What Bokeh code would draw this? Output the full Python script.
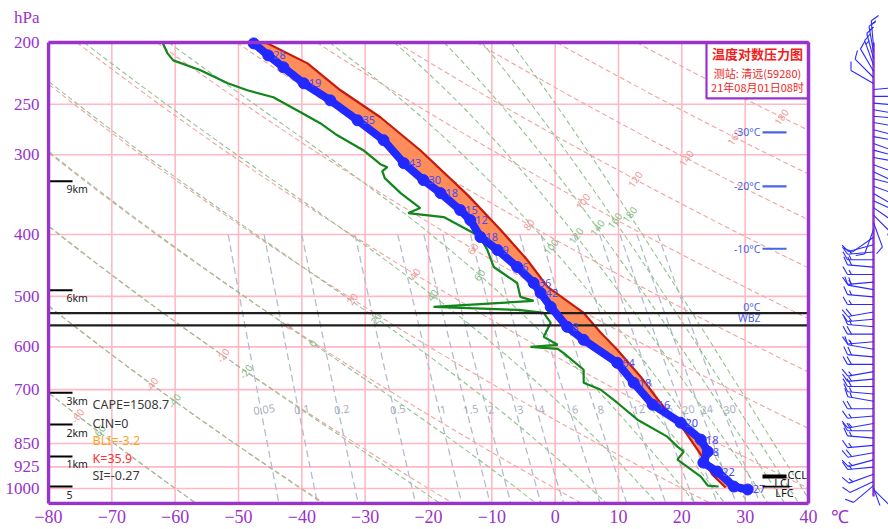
import numpy as np
from bokeh.plotting import figure
from bokeh.models import Range1d, FixedTicker
from bokeh.core.properties import value
from bokeh.embed import file_html
from bokeh.resources import INLINE

# ---------------- data ----------------
temp_p = [200.7, 209.6, 218.8, 231.8, 246.5, 264.9, 284.6, 309.2, 328.7, 344.5, 366.2, 379.7, 403.6, 423.0, 449.7,
          476.4, 493.8, 519.4, 558.1, 584.9, 635.4, 682.9, 739.2, 788.7, 838.5, 875.5, 910.8, 940.8, 993.0, 1003.6]
temp_t = [-47.6, -45.3, -42.9, -39.7, -35.5, -31.2, -27.1, -23.9, -20.8, -18.1, -15.0, -13.4, -11.8, -9.1, -6.0,
          -3.4, -2.3, -0.7, 1.9, 4.5, 9.8, 12.4, 15.4, 19.8, 23.0, 24.1, 23.4, 25.6, 28.2, 30.4]
temp_labels = ["", "28", "", "19", "", "35", "", "43", "30", "18", "15", "12", "18", "9", "6",
               "36", "42", "", "8", "", "64", "18", "16", "20", "18", "8", "", "22", "", "27"]

dew_p = [200.0, 208.1, 213.4, 221.2, 231.8, 237.7, 243.8, 257.3, 267.7, 279.6, 295.1, 310.3, 313.7, 318.2, 326.3,
         344.5, 363.6, 370.2, 375.6, 397.9, 405.1, 423.0, 449.7, 476.4, 500.9, 508.2, 519.4, 525.0, 530.7, 550.1,
         578.6, 595.5, 599.8, 604.1, 612.9, 651.6, 682.9, 700.3, 733.9, 780.2, 829.5, 859.9, 875.5, 901.1, 957.9,
         989.5, 993.0]
dew_t = [-62.0, -61.2, -60.3, -56.0, -51.7, -48.6, -44.5, -40.2, -37.1, -34.4, -30.3, -27.6, -26.5, -27.3, -26.9,
         -24.4, -21.3, -23.2, -17.6, -12.9, -11.8, -10.7, -9.7, -6.0, -5.5, -3.4, -19.2, -5.8, -1.8, -0.7,
         -1.8, 0.4, -3.9, 0.4, 1.3, 4.5, 4.5, 7.2, 9.8, 13.0, 17.7, 19.3, 20.3, 19.3, 23.0,
         24.1, 25.8]

parcel_p = [200.0, 215.7, 237.7, 262.0, 295.1, 347.0, 393.6, 438.5, 483.3, 530.7, 570.3, 606.3, 668.2, 733.9,
            808.8, 885.0, 951.0, 996.6]
parcel_t = [-45.7, -39.1, -33.9, -27.6, -21.3, -13.8, -8.6, -4.4, -1.2, 4.5, 7.2, 9.8, 13.5, 16.6,
            20.3, 23.0, 24.8, 26.9]

x_ticks = [-80, -70, -60, -50, -40, -30, -20, -10, 0, 10, 20, 30, 40]
y_ticks = [200, 250, 300, 400, 500, 600, 700, 850, 925, 1000]

dry_theta = [-60, -40, -20, 0, 20, 40, 60, 80, 100, 120, 140, 160, 180, 200]
moist_theta = [-60, -40, -20, 0, 20, 40, 60, 80, 100, 120, 140, 160, 180]
mix_ratio = [0.05, 0.1, 0.2, 0.5, 1, 1.5, 2, 3, 4, 6, 8, 12, 16, 20, 24, 30]
mix_labels = ["0.05", "0.1", "0.2", "0.5", "1", "1.5", "2", "3", "4", "6", "8", "12", "16", "20", "24", "30"]

height_p = [330, 489, 708, 794, 891, 993]
height_labels = ["9km", "6km", "3km", "2km", "1km", "5"]

iso_line_p = [276.6, 336.1, 421.1]
iso_label_p = [276.6, 336.1, 421.1, 519.5, 540.3]
iso_labels = ["-30°C", "-20°C", "-10°C", "0°C", "WBZ"]
zero_level_p = 531
wbz_level_p = 555

index_texts = ["CAPE=1508.7", "CIN=0", "BLI=-3.2", "K=35.9", "SI=-0.27"]
index_p = [739, 790, 841, 898, 955]
index_colors = ["#3a3a3a", "#3a3a3a", "#ffa21f", "#ff3030", "#3a3a3a"]

ccl_p, lcl_p, lfc_p = 958, 993, 993

title_lines = ["温度对数压力图", "测站: 清远(59280)", "21年08月01日08时"]

wind_p = [203, 207, 212, 217, 222, 227, 232,
          237, 243, 249, 255, 261, 267, 274, 281, 288, 295, 303, 311, 319, 327, 336, 345, 354, 363, 373,
          383, 393, 404,
          415, 426, 438, 450, 462, 475, 488, 501, 515, 529, 543, 558, 573, 589, 605, 622, 639, 656, 674, 692,
          711, 730, 750, 770, 791, 812, 834, 856, 879, 902, 926, 950, 975, 990, 998, 1003]
wind_dir = [355, 350, 345, 340, 330, 315, 300,
            85, 90, 95, 100, 95, 100, 105, 100, 110, 105, 100, 110, 115, 105, 110, 120, 115, 125, 135,
            160, 200, 235,
            255, 265, 270, 275, 270, 265, 280, 275, 270, 260, 265, 275, 270, 265, 280, 275, 270, 260, 265, 270,
            275, 280, 270, 265, 260, 270, 275, 265, 260, 255, 265, 250, 245, 230, 160, 135]
wind_spd = [6, 6, 5, 6, 5, 4, 4,
            8, 10, 10, 12, 10, 12, 10, 12, 10, 12, 10, 8, 10, 12, 10, 8, 8, 6, 6,
            4, 4, 4,
            4, 6, 6, 8, 6, 6, 8, 6, 6, 8, 6, 6, 8, 6, 6, 8, 8, 6, 6, 8,
            6, 6, 8, 6, 6, 8, 6, 6, 8, 6, 6, 6, 4, 4, 4, 4]

# ---------------- geometry helpers (page pixels <-> data) ----------------
PX = 760.0 / 120.0      # px per degC
PPL = 277.7             # px per ln(p)
X0, Y0 = 48.0, 42.0     # page position of (-80 C, 200 hPa)


def px_of(T):
    return X0 + (np.asarray(T, float) + 80.0) * PX


def py_of(p):
    return Y0 + PPL * np.log(np.asarray(p, float) / 200.0)


def T_of_px(x):
    return -80.0 + (x - X0) / PX


def p_of_py(y):
    return 200.0 * np.exp((y - Y0) / PPL)


W, H = 888, 529
LEFT, RIGHT, TOP, BOTTOM = 46, 888, 0, 506
x_start, x_end = T_of_px(LEFT), T_of_px(RIGHT)
p_top, p_bot = p_of_py(TOP), p_of_py(BOTTOM)
T_MIN, T_MAX = -80.0, 40.0
P_MIN, P_MAX = 200.0, p_of_py(504)

PURPLE = "#9933cc"
PINK = "#ffb9c4"

p = figure(width=W, height=H, x_range=Range1d(x_start, x_end), y_range=Range1d(p_bot, p_top),
           y_axis_type="log", output_backend="svg", toolbar_location=None,
           min_border_left=LEFT, min_border_right=W - RIGHT, min_border_top=TOP,
           min_border_bottom=H - BOTTOM)
p.outline_line_color = None
p.xgrid.visible = False
p.ygrid.visible = False
p.background_fill_color = "white"
p.border_fill_color = "white"

# axes
p.xaxis.ticker = FixedTicker(ticks=x_ticks + [45])
ov = {t: ("\u2212%d" % (-t) if t < 0 else str(t)) for t in x_ticks}
ov[45] = "℃"
p.xaxis.major_label_overrides = ov
p.yaxis.ticker = FixedTicker(ticks=[183] + y_ticks)
yov = {t: str(t) for t in y_ticks}
yov[183] = "hPa"
p.yaxis.major_label_overrides = yov
for ax in (p.xaxis[0], p.yaxis[0]):
    ax.axis_line_color = None
    ax.major_tick_line_color = None
    ax.minor_tick_line_color = None
    ax.major_tick_out = 0
    ax.major_tick_in = 0
    ax.minor_tick_out = 0
    ax.minor_tick_in = 0
    ax.major_label_text_color = PURPLE
    ax.major_label_text_font = "Liberation Serif"
p.xaxis.major_label_text_font_size = "18px"
p.xaxis.major_label_standoff = 1
p.yaxis.major_label_text_font_size = "17px"
p.yaxis.major_label_standoff = 7


def clip(T, pp):
    T = np.array(T, float)
    pp = np.array(pp, float)
    bad = (T < T_MIN) | (T > T_MAX) | (pp < P_MIN) | (pp > P_MAX) | np.isnan(T)
    T[bad] = np.nan
    pp[bad] = np.nan
    return T, pp


def label_point(T, pp, a, b):
    gx, gy = px_of(T), py_of(pp)
    (x1, y1), (x2, y2) = a, b
    f = (gy - y1) - (y2 - y1) / (x2 - x1) * (gx - x1)
    valid = ~np.isnan(f)
    s = np.sign(np.nan_to_num(f))
    idx = np.where(valid[:-1] & valid[1:] & (s[:-1] != s[1:]))[0]
    if len(idx) == 0:
        return None
    i = idx[0]
    return T[i], pp[i]


# ---------------- grid ----------------
gx = [t for t in x_ticks if T_MIN < t < T_MAX]
p.segment(x0=gx, y0=[P_MIN] * len(gx), x1=gx, y1=[P_MAX] * len(gx), line_color=PINK, line_width=1.6)
gy = [v for v in y_ticks if v > P_MIN]
p.segment(x0=[T_MIN] * len(gy), y0=gy, x1=[T_MAX] * len(gy), y1=gy, line_color=PINK, line_width=1.6)

# ---------------- thermodynamic reference lines ----------------
Rd, cp, Lv, eps = 287.04, 1004.0, 2.5e6, 0.622
pgrid = np.exp(np.linspace(np.log(175.0), np.log(1070.0), 500))


def es_w(Tc):
    return 6.112 * np.exp(17.67 * Tc / (Tc + 243.5))


def rs(TK, pp):
    e = es_w(TK - 273.15)
    return eps * e / (pp - e)


def theta_se(TK, pp):
    return TK * (1000.0 / pp) ** 0.286 * np.exp(Lv * rs(TK, pp) / (cp * TK))


def dTdlnp(TK, pp):
    r = rs(TK, pp)
    return (Rd * TK + Lv * r) / (cp + Lv * Lv * r * eps / (Rd * TK * TK))


def moist_curve(target_c):
    target = target_c + 273.15
    lo, hi = 150.0, 330.0
    for _ in range(60):
        mid = 0.5 * (lo + hi)
        if theta_se(mid, 1000.0) > target:
            hi = mid
        else:
            lo = mid
    T0 = 0.5 * (lo + hi)
    lnp = np.log(pgrid)
    i0 = np.argmin(np.abs(pgrid - 1000.0))
    out = np.empty_like(pgrid)
    out[i0] = T0
    for direction in (-1, 1):
        T = T0
        i = i0
        while 0 <= i + direction < len(pgrid):
            j = i + direction
            h = lnp[j] - lnp[i]
            pa = pgrid[i]
            k1 = dTdlnp(T, pa)
            pm = np.exp(lnp[i] + h / 2)
            k2 = dTdlnp(T + h / 2 * k1, pm)
            k3 = dTdlnp(T + h / 2 * k2, pm)
            k4 = dTdlnp(T + h * k3, pgrid[j])
            T = T + h / 6 * (k1 + 2 * k2 + 2 * k3 + k4)
            out[j] = T
            i = j
    return out - 273.15


# mixing ratio lines (400 hPa to bottom)
mgrid = np.exp(np.linspace(np.log(400.0), np.log(1070.0), 200))


def mix_T(r_gkg, pp):
    r = r_gkg / 1000.0
    e = r * pp / (eps + r)
    L = np.log(e / 6.112)
    Tw = 243.5 * L / (17.67 - L)
    Ti = 272.62 * L / (22.46 - L)
    return np.where(Tw < 0, Ti, Tw)


mxs, mys, mlx, mly, mlt = [], [], [], [], []
for r, lab in zip(mix_ratio, mix_labels):
    T, pp = clip(mix_T(r, mgrid), mgrid)
    mxs.append(T)
    mys.append(pp)
    tl = float(mix_T(r, 800.0))
    if T_MIN < tl < T_MAX - 1:
        mlx.append(tl)
        mly.append(752.0)
        mlt.append(lab)
p.multi_line(xs=mxs, ys=mys, line_color="#b3bccb", line_width=1.3, line_dash="7 4")
p.text(x=mlx, y=mly, text=mlt, text_font=value("Noto Sans"), text_font_size="11px",
       text_color="#a9b2c0", text_align="center", text_baseline="middle", angle=0.15)

# dry adiabats
dxs, dys, dlx, dly, dlt = [], [], [], [], []
for th in dry_theta:
    T = (th + 273.15) * (pgrid / 1000.0) ** 0.286 - 273.15
    Tc, pc = clip(T, pgrid)
    dxs.append(Tc)
    dys.append(pc)
    lp = label_point(Tc, pc, (83, 415), (792, 113))
    if lp is not None:
        dlx.append(lp[0])
        dly.append(lp[1])
        dlt.append(str(th))
p.multi_line(xs=dxs, ys=dys, line_color="#f2a2a2", line_width=1.1, line_dash="5 3")

# moist adiabats
wxs, wys, wlx, wly, wlt = [], [], [], [], []
for th in moist_theta:
    T = moist_curve(th)
    Tc, pc = clip(T, pgrid)
    wxs.append(Tc)
    wys.append(pc)
    lp = label_point(Tc, pc, (105, 430), (623, 217))
    if lp is not None:
        wlx.append(lp[0])
        wly.append(lp[1])
        wlt.append(str(th))
p.multi_line(xs=wxs, ys=wys, line_color="#92c292", line_width=1.1, line_dash="5 3")

p.text(x=dlx, y=dly, text=dlt, text_font=value("Noto Sans"), text_font_size="10px",
       text_color="#f29a9a", text_align="center", text_baseline="middle", angle=0.96)
p.text(x=wlx, y=wly, text=wlt, text_font=value("Noto Sans"), text_font_size="10px",
       text_color="#86bb86", text_align="center", text_baseline="middle", angle=0.92)

# ---------------- sounding ----------------
patch_x = list(parcel_t) + list(temp_t[::-1])
patch_y = list(parcel_p) + list(temp_p[::-1])
p.patch(x=patch_x, y=patch_y, fill_color="#ff8d5c", line_color=None)
p.line(x=dew_t, y=dew_p, line_color="#11861a", line_width=2.2)
p.line(x=parcel_t, y=parcel_p, line_color="#c81a0a", line_width=2.2)

# 0 C and WBZ levels
p.segment(x0=[T_MIN, T_MIN], y0=[zero_level_p, wbz_level_p], x1=[T_MAX, T_MAX],
          y1=[zero_level_p, wbz_level_p], line_color="#1e1e1e", line_width=2.2)

p.line(x=temp_t, y=temp_p, line_color="#2229ff", line_width=8)
p.scatter(x=temp_t, y=temp_p, size=11, fill_color="#2229ff", line_color="#2229ff")
lt = [t for t, s in zip(temp_t, temp_labels) if s]
lpp = [v for v, s in zip(temp_p, temp_labels) if s]
ls = [s for s in temp_labels if s]
p.text(x=lt, y=lpp, text=ls, text_font=value("Noto Sans"), text_font_size="11px",
       text_color="#4b4bf0", text_align="left", text_baseline="middle", x_offset=5)

# ---------------- annotations ----------------
# height markers
hx1 = T_of_px(72)
p.segment(x0=[T_MIN] * len(height_p), y0=height_p, x1=[hx1] * len(height_p), y1=height_p,
          line_color="black", line_width=2)
p.text(x=[T_of_px(66)] * len(height_p), y=[v * np.exp(8 / PPL) for v in height_p], text=height_labels,
       text_font=value("Noto Sans"), text_font_size="10.5px", text_color="#222222",
       text_align="left", text_baseline="middle")

# isotherm level markers
p.segment(x0=[T_of_px(762)] * 3, y0=iso_line_p, x1=[T_of_px(786)] * 3, y1=iso_line_p,
          line_color="#4a64e6", line_width=2.2)
p.text(x=[T_of_px(760)] * len(iso_labels), y=iso_label_p, text=iso_labels,
       text_font=value("Noto Sans"), text_font_size="10.5px", text_color="#4a64e6",
       text_align="right", text_baseline="middle")

# stability indices
p.text(x=[T_of_px(92)] * len(index_texts), y=index_p, text=index_texts, text_color=index_colors,
       text_font=value("Noto Sans"), text_font_size="12.5px", text_align="left", text_baseline="middle")

# CCL / LCL / LFC
p.segment(x0=[T_of_px(762)], y0=[ccl_p], x1=[T_of_px(786)], y1=[ccl_p], line_color="black", line_width=4)
p.segment(x0=[T_of_px(762)], y0=[lcl_p], x1=[T_of_px(789)], y1=[lcl_p], line_color="black", line_width=1.8)
p.text(x=[T_of_px(787)], y=[ccl_p * np.exp(-2 / PPL)], text=["CCL"], text_font=value("Noto Sans"),
       text_font_size="11px", text_color="#111111", text_align="left", text_baseline="middle")
p.text(x=[T_of_px(783), T_of_px(784)], y=[lcl_p * np.exp(-4 / PPL), lfc_p * np.exp(6 / PPL)],
       text=["LCL", "LFC"], text_font=value("Noto Sans"), text_font_size="11px", text_color="#111111",
       text_align="center", text_baseline="middle")

# title box
bx0, bx1 = T_of_px(706), T_MAX
p.quad(left=[bx0], right=[bx1], top=[P_MIN], bottom=[p_of_py(98)], fill_color="white",
       line_color=PURPLE, line_width=2.2)
cx = 0.5 * (bx0 + bx1)
p.text(x=[cx], y=[p_of_py(53)], text=[title_lines[0]], text_font=value("Noto Sans CJK SC"),
       text_font_size="13px", text_font_style="bold", text_color="#f01e1e",
       text_align="center", text_baseline="middle")
p.text(x=[cx, cx], y=[p_of_py(73), p_of_py(87)], text=title_lines[1:], text_font=value("Noto Sans CJK SC"),
       text_font_size="11px", text_color="#f01e1e", text_align="center", text_baseline="middle")

# frame
p.segment(x0=[T_MIN, T_MIN, T_MIN, T_MAX], y0=[P_MIN, P_MAX, P_MIN, P_MIN],
          x1=[T_MAX, T_MAX, T_MIN, T_MAX], y1=[P_MIN, P_MAX, P_MAX, P_MAX],
          line_color=PURPLE, line_width=3.5)

# ---------------- wind barbs ----------------
XS = T_of_px(873)
p.segment(x0=[XS], y0=[P_MIN], x1=[XS], y1=[p_of_py(497)], line_color=PURPLE, line_width=2.5)
bx0s, by0s, bx1s, by1s = [], [], [], []


def add_seg(pp, a, b):
    bx0s.append(XS + a[0] / PX)
    by0s.append(pp * np.exp(a[1] / PPL))
    bx1s.append(XS + b[0] / PX)
    by1s.append(pp * np.exp(b[1] / PPL))


for pp, d, s in zip(wind_p, wind_dir, wind_spd):
    rad = np.deg2rad(d)
    ux, uy = np.sin(rad), -np.cos(rad)
    L = 26.0
    add_seg(pp, (0, 0), (L * ux, L * uy))
    fx, fy = -uy, ux
    pos = L
    n_full = int(s // 4)
    half = (s % 4) >= 2
    for k in range(n_full):
        bxp, byp = pos * ux, pos * uy
        add_seg(pp, (bxp, byp), (bxp + 9 * (0.87 * fx + 0.5 * ux), byp + 9 * (0.87 * fy + 0.5 * uy)))
        pos -= 4
    if half:
        bxp, byp = pos * ux, pos * uy
        add_seg(pp, (bxp, byp), (bxp + 5 * (0.87 * fx + 0.5 * ux), byp + 5 * (0.87 * fy + 0.5 * uy)))

p.segment(x0=bx0s, y0=by0s, x1=bx1s, y1=by1s, line_color="#2b2bff", line_width=1.1)

open("out.html", "w").write(file_html(p, INLINE))
